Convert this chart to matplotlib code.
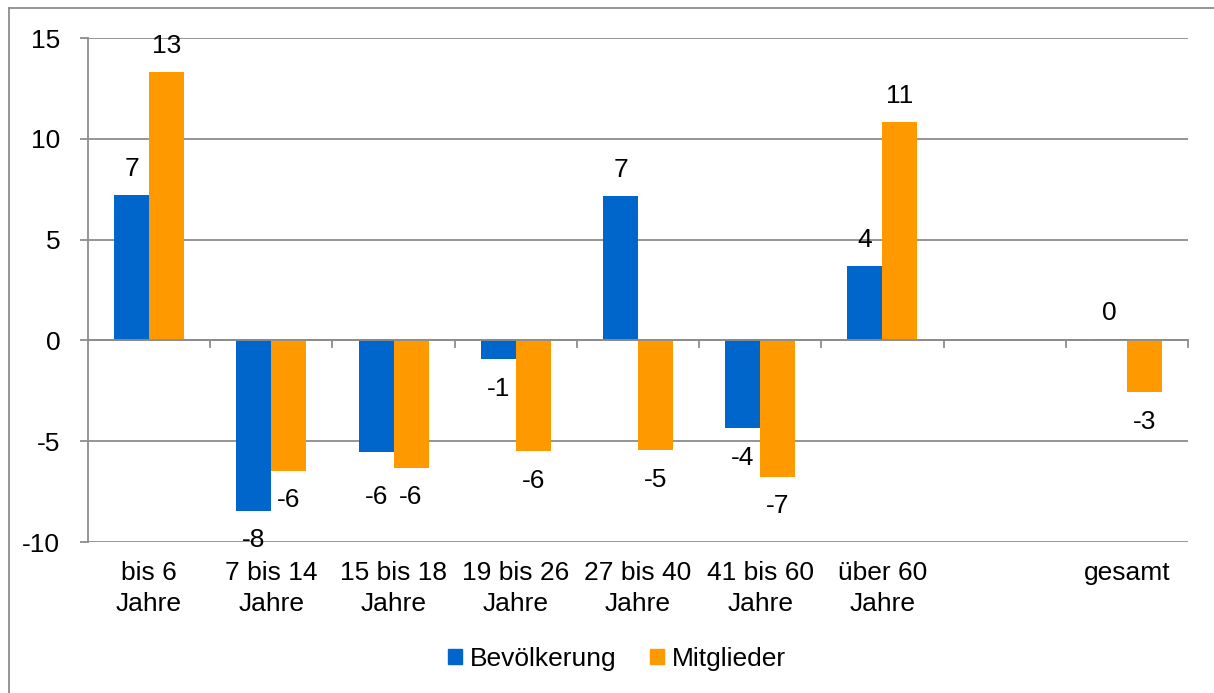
import numpy as np
import matplotlib.pyplot as plt
from matplotlib.lines import Line2D

plt.rcParams["font.family"] = ["Liberation Sans", "DejaVu Sans"]
plt.rcParams["axes.unicode_minus"] = False

categories = ["bis 6\nJahre", "7 bis 14\nJahre", "15 bis 18\nJahre", "19 bis 26\nJahre",
              "27 bis 40\nJahre", "41 bis 60\nJahre", "über 60\nJahre", "", "gesamt"]
bevoelkerung = [7.2, -8.45, -5.56, -0.94, 7.15, -4.37, 3.68, np.nan, 0.05]
mitglieder = [13.3, -6.46, -6.31, -5.51, -5.46, -6.76, 10.83, np.nan, -2.58]
series_names = ["Bevölkerung", "Mitglieder"]
colors = ["#0066CC", "#FF9900"]

W, H = 1214, 693
fs = 19
fig = plt.figure(figsize=(W / 100, H / 100), dpi=100)
ax = fig.add_axes([88 / W, 1 - 542 / H, (1188 - 88) / W, (542 - 38) / H])

x = np.arange(len(categories))
bw = 0.286
grid_c = "#8c8c8c"

for vals, off, col, name in [(bevoelkerung, -bw / 2, colors[0], series_names[0]),
                             (mitglieder, bw / 2, colors[1], series_names[1])]:
    v = np.array(vals, dtype=float)
    ax.bar(x + off, v, bw, color=col, label=name, zorder=3)
    for xi, yi in zip(x + off, v):
        if np.isnan(yi):
            continue
        dy = 19 if yi >= 0 else -21
        # one label sits lower in the original
        if name == "Bevölkerung" and 1.5 < xi < 2:
            dy = -32
        ax.annotate(f"{round(yi):d}", (xi, yi), xytext=(0, dy), textcoords="offset points",
                    ha="center", va="center", fontsize=fs, color="black", zorder=5)

ax.set_xlim(-0.5, len(categories) - 0.5)
ax.set_ylim(-10, 15)
ax.set_yticks([-10, -5, 0, 5, 10, 15])
ax.yaxis.grid(True, color=grid_c, lw=1.3, zorder=0)
ax.set_axisbelow(True)
for s in ["top", "right", "bottom"]:
    ax.spines[s].set_visible(False)
ax.spines["left"].set_color(grid_c)
ax.spines["left"].set_linewidth(1.3)
ax.tick_params(axis="y", length=6, width=1.3, color=grid_c, labelsize=fs, pad=14)

# category labels below the plot, separators on the zero line
ax.set_xticks([])
for xi, lab in zip(x, categories):
    ax.text(xi, -10.95, lab, ha="center", va="top", fontsize=fs, linespacing=1.35)
ax.axhline(0, color=grid_c, lw=1.3, zorder=4)
for b in np.arange(0.5, len(categories), 1.0):
    ax.plot([b, b], [0, -0.35], color=grid_c, lw=1.3, zorder=4, clip_on=False)

handles = [plt.Rectangle((0, 0), 1, 1, color=c) for c in colors]
fig.legend(handles, series_names, loc="center", bbox_to_anchor=(617 / W, 1 - 659 / H),
           ncol=2, frameon=False, fontsize=fs, handlelength=0.5, handleheight=0.5,
           handletextpad=0.3, columnspacing=1.3)

# outer frame (top and left edges visible)
fig.add_artist(Line2D([9 / W, 9 / W], [0, 1 - 8 / H], color=grid_c, lw=1.3))
fig.add_artist(Line2D([9 / W, 1], [1 - 8 / H, 1 - 8 / H], color=grid_c, lw=1.3))

fig.savefig("out.png", dpi=100)
